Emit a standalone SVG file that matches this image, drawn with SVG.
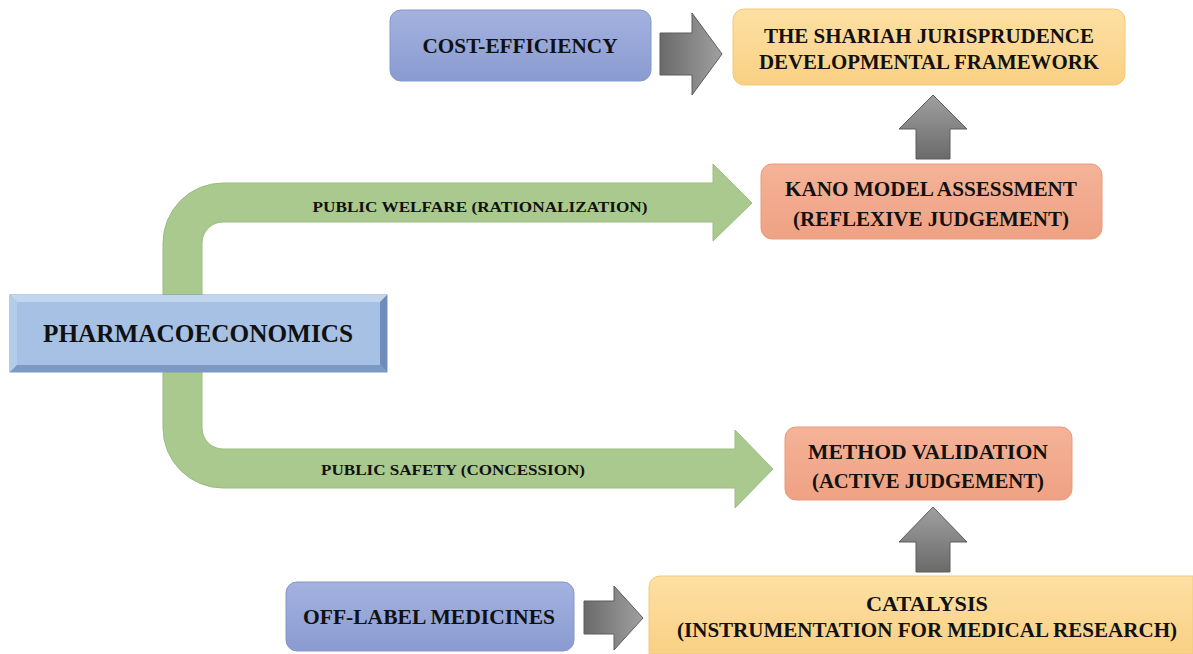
<svg xmlns="http://www.w3.org/2000/svg" width="1193" height="654" viewBox="0 0 1193 654">
<defs>
<linearGradient id="gBlue" x1="0" y1="0" x2="0" y2="1"><stop offset="0" stop-color="#a3b2df"/><stop offset="1" stop-color="#8a9bd1"/></linearGradient>
<linearGradient id="gYel" x1="0" y1="0" x2="0" y2="1"><stop offset="0" stop-color="#fde0a4"/><stop offset="1" stop-color="#f9d084"/></linearGradient>
<linearGradient id="gSal" x1="0" y1="0" x2="0" y2="1"><stop offset="0" stop-color="#f4b398"/><stop offset="1" stop-color="#efa183"/></linearGradient>
<linearGradient id="gGrayH" x1="0" y1="0" x2="1" y2="0"><stop offset="0" stop-color="#6a6a6a"/><stop offset="1" stop-color="#a0a0a0"/></linearGradient>
<linearGradient id="gGrayV" x1="0" y1="1" x2="0" y2="0"><stop offset="0" stop-color="#6a6a6a"/><stop offset="1" stop-color="#a0a0a0"/></linearGradient>
</defs>
<style>
.t{font-family:"Liberation Serif","Times New Roman",serif;font-weight:bold;fill:#111;text-anchor:middle}
.blue{fill:url(#gBlue);stroke:#8596c8;stroke-width:1}
.yel{fill:url(#gYel);stroke:#f2c978;stroke-width:1}
.sal{fill:url(#gSal);stroke:#e99a7c;stroke-width:1}
.green{fill:#a9c98f;stroke:#9bbd82;stroke-width:1}
.grayH{fill:url(#gGrayH);stroke:#5c5c5c;stroke-width:1}
.grayV{fill:url(#gGrayV);stroke:#5c5c5c;stroke-width:1}
</style>
<g id="connectors">
<path class="green" d="M163,333 L163,243 A60,60 0 0 1 223,183 L713,183 L713,164 L752,203 L713,241 L713,222 L223,222 A21,21 0 0 0 202,243 L202,333 Z"/>
<path class="green" d="M163,333 L163,428 A60,60 0 0 0 223,488 L735,488 L735,508 L773,469 L735,430 L735,449 L223,449 A21,21 0 0 1 202,428 L202,333 Z"/>
<text class="t" x="480" y="212" font-size="15" textLength="335" lengthAdjust="spacingAndGlyphs">PUBLIC WELFARE (RATIONALIZATION)</text>
<text class="t" x="453" y="475" font-size="15" textLength="264" lengthAdjust="spacingAndGlyphs">PUBLIC SAFETY (CONCESSION)</text>
<path class="grayH" d="M660,33 L692,33 L692,13 L722,54 L692,95 L692,75 L660,75 Z"/>
<path class="grayV" d="M916,159 L916,129 L899,129 L933,95 L967,129 L950,129 L950,159 Z"/>
<path class="grayV" d="M916,572 L916,542 L899,542 L933,507 L967,542 L950,542 L950,572 Z"/>
<path class="grayH" d="M584,601 L614,601 L614,586 L643,618 L614,650 L614,634 L584,634 Z"/>
</g>
<g id="cost">
<rect class="blue" x="390" y="10" width="261" height="71" rx="11"/>
<text class="t" x="520" y="53" font-size="21" textLength="195" lengthAdjust="spacingAndGlyphs">COST-EFFICIENCY</text>
</g>
<g id="shariah">
<rect class="yel" x="733" y="9" width="392" height="76" rx="11"/>
<text class="t" x="929" y="43" font-size="21" textLength="330" lengthAdjust="spacingAndGlyphs">THE SHARIAH JURISPRUDENCE</text>
<text class="t" x="929" y="69" font-size="21" textLength="340" lengthAdjust="spacingAndGlyphs">DEVELOPMENTAL FRAMEWORK</text>
</g>
<g id="kano">
<rect class="sal" x="761" y="164" width="341" height="75" rx="11"/>
<text class="t" x="931" y="196" font-size="21" textLength="292" lengthAdjust="spacingAndGlyphs">KANO MODEL ASSESSMENT</text>
<text class="t" x="931" y="226" font-size="21" textLength="276" lengthAdjust="spacingAndGlyphs">(REFLEXIVE JUDGEMENT)</text>
</g>
<g id="pharmaco">
<rect x="10" y="295" width="377" height="77" fill="#a6c1e4" stroke="#7b98c2" stroke-width="1"/>
<polygon points="10,295 387,295 380,302 17,302" fill="#c3d6ef"/>
<polygon points="10,295 17,302 17,365 10,372" fill="#b5cbea"/>
<polygon points="387,295 387,372 380,365 380,302" fill="#6f8db8"/>
<polygon points="10,372 387,372 380,365 17,365" fill="#7c99c3"/>
<text class="t" x="198" y="342" font-size="25" textLength="310" lengthAdjust="spacingAndGlyphs">PHARMACOECONOMICS</text>
</g>
<g id="method">
<rect class="sal" x="785" y="427" width="287" height="73" rx="11"/>
<text class="t" x="928" y="459" font-size="21" textLength="240" lengthAdjust="spacingAndGlyphs">METHOD VALIDATION</text>
<text class="t" x="928" y="488" font-size="21" textLength="232" lengthAdjust="spacingAndGlyphs">(ACTIVE JUDGEMENT)</text>
</g>
<g id="offlabel">
<rect class="blue" x="286" y="582" width="288" height="69" rx="11"/>
<text class="t" x="429" y="624" font-size="22" textLength="252" lengthAdjust="spacingAndGlyphs">OFF-LABEL MEDICINES</text>
</g>
<g id="catalysis">
<path class="yel" d="M649,654 L649,587 A11,11 0 0 1 660,576 L1193,576 L1193,654 Z"/>
<text class="t" x="927" y="611" font-size="21" textLength="122" lengthAdjust="spacingAndGlyphs">CATALYSIS</text>
<text class="t" x="927" y="637" font-size="21" textLength="500" lengthAdjust="spacingAndGlyphs">(INSTRUMENTATION FOR MEDICAL RESEARCH)</text>
</g>
</svg>
